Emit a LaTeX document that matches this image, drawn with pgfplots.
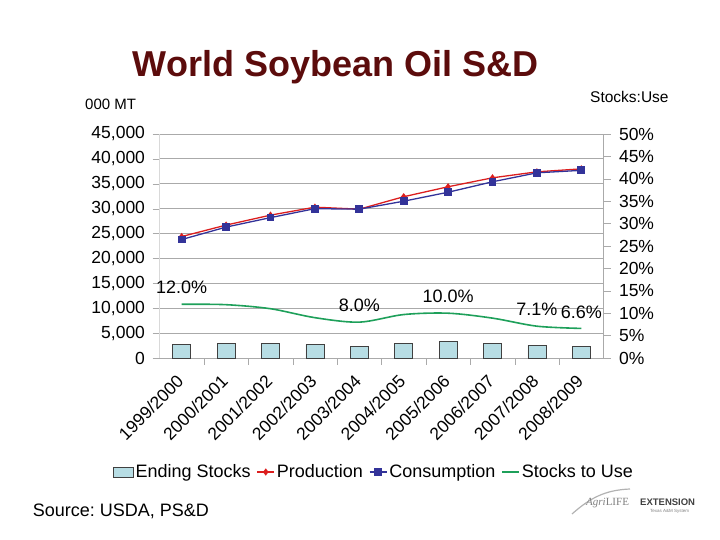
\documentclass[border=0pt]{standalone}
\usepackage{fontspec}
\setmainfont{Liberation Sans}
\newfontfamily\serifff{Liberation Serif}
\usepackage{pgfplots}
\pgfplotsset{compat=1.18}
\definecolor{titlered}{RGB}{92,12,12}
\definecolor{barblue}{RGB}{183,221,228}
\definecolor{prodred}{RGB}{220,30,30}
\definecolor{consblue}{RGB}{51,51,153}
\definecolor{stugreen}{RGB}{30,160,90}
\definecolor{gridgray}{RGB}{170,170,170}
\newcommand{\tickfont}{\fontsize{17.5bp}{20bp}\selectfont}
\pgfplotsset{boxlegend/.style={legend image code/.code={\draw[##1] (0bp,-5bp) rectangle (20bp,5bp);}}}
\frenchspacing
\begin{document}
\begin{tikzpicture}
\path[use as bounding box] (0bp,0bp) rectangle (720bp,540bp);
% title and texts
\node[anchor=base, font=\fontsize{36bp}{40bp}\selectfont\bfseries, text=titlered, inner sep=0pt] at (335.5bp,463bp) {World Soybean Oil S\&D};
\node[anchor=base west, font=\fontsize{15bp}{18bp}\selectfont, inner sep=0pt] at (85bp,430.7bp) {000 MT};
\node[anchor=base west, font=\fontsize{15.5bp}{18bp}\selectfont, inner sep=0pt] at (590bp,437.3bp) {Stocks:Use};
\node[anchor=base west, font=\fontsize{18bp}{21bp}\selectfont, inner sep=0pt] at (32.7bp,24bp) {Source: USDA, PS\&D};
\begin{axis}[
  at={(159.5bp,182bp)}, anchor=south west, scale only axis,
  width=444bp, height=224bp,
  xmin=-0.5, xmax=9.5, ymin=0, ymax=45000,
  axis x line*=bottom, axis y line*=left,
  x axis line style={gridgray, -}, y axis line style={black!15, -},
  xtick={0,...,9},
  xticklabels={1999/2000,2000/2001,2001/2002,2002/2003,2003/2004,2004/2005,2005/2006,2006/2007,2007/2008,2008/2009},
  xticklabel style={font=\fontsize{17.5bp}{20bp}\selectfont, xshift=1bp, yshift=-11bp, rotate=45, anchor=east},
  minor x tick num=1,
  major x tick style={draw=none},
  minor x tick style={gridgray},
  ytick={0,5000,...,45000},
  ytick style={gridgray},
  tick align=outside, major tick length=7bp, minor tick length=7bp,
  ymajorgrids, grid style={gridgray, line width=0.8bp},
  yticklabel style={font=\tickfont, xshift=-4bp},
  scaled y ticks=false,
  /pgf/number format/.cd, 1000 sep={,}, assume math mode=true, /pgfplots/.cd,
  legend style={at={(0.483,-0.509)}, anchor=center, draw=none, fill=none,
    legend columns=4, font=\fontsize{18bp}{20bp}\selectfont, inner sep=0pt,
    /tikz/every even column/.append style={column sep=4bp}},
  legend cell align=left,
  clip=false,
]
\addplot[ybar, bar width=18bp, fill=barblue, draw=black!75, line width=0.6bp, boxlegend]
  coordinates {(0,2800) (1,3000) (2,3000) (3,2700) (4,2350) (5,3000) (6,3350) (7,3000) (8,2600) (9,2400)};
\addlegendentry{Ending Stocks}
\addplot[prodred, line width=1.3bp, mark=diamond*, mark size=2.6bp, mark options={solid}]
  coordinates {(0,24400) (1,26700) (2,28700) (3,30300) (4,29900) (5,32400) (6,34400) (7,36200) (8,37400) (9,38000)};
\addlegendentry{Production}
\addplot[consblue, line width=1.3bp, mark=square*, mark size=3.2bp, mark options={solid}]
  coordinates {(0,23800) (1,26300) (2,28200) (3,30000) (4,29900) (5,31500) (6,33300) (7,35400) (8,37200) (9,37700)};
\addlegendentry{Consumption}
\addlegendimage{stugreen, line width=1.6bp}
\addlegendentry{Stocks to Use}
\end{axis}
\begin{axis}[
  at={(159.5bp,182bp)}, anchor=south west, scale only axis,
  width=444bp, height=224bp,
  xmin=-0.5, xmax=9.5, ymin=0, ymax=50,
  axis x line=none, axis y line*=right,
  y axis line style={gridgray, -},
  ytick={0,5,...,50},
  ytick style={gridgray},
  tick align=outside, major tick length=7bp,
  yticklabel={\pgfmathprintnumber{\tick}\%},
  yticklabel style={font=\tickfont, xshift=5bp},
  /pgf/number format/.cd, assume math mode=true, /pgfplots/.cd,
  clip=false,
]
\addplot[stugreen, line width=1.6bp, smooth, tension=0.5]
  coordinates {(0,12.0) (1,11.9) (2,11.0) (3,9.0) (4,8.0) (5,9.7) (6,10.0) (7,8.9) (8,7.1) (9,6.6)};
\addplot[draw=none, nodes near coords={\pgfmathprintnumber[fixed,fixed zerofill,precision=1]{\pgfplotspointmeta}\%},
  point meta=y,
  every node near coord/.style={anchor=center, yshift=16.5bp, font=\fontsize{18bp}{20bp}\selectfont, inner sep=0pt}]
  coordinates {(0,12.0) (4,8.0) (6,10.0) (8,7.1) (9,6.6)};
\end{axis}
% logo
\draw[gray!60, line width=1.2bp] (572bp,26bp) .. controls (590bp,42bp) and (605bp,50bp) .. (630bp,51bp);
\node[anchor=base west, inner sep=0pt, text=gray, font=\serifff\fontsize{11bp}{12bp}\selectfont] at (586bp,35bp) {\textit{Agri}LIFE};
\node[anchor=base west, inner sep=0pt, text=black!75, font=\fontsize{9.5bp}{10bp}\selectfont\bfseries] at (640bp,35bp) {EXTENSION};
\node[anchor=base west, inner sep=0pt, text=gray, font=\fontsize{4.5bp}{5bp}\selectfont] at (650bp,28bp) {Texas A\&M System};
\end{tikzpicture}
\end{document}
